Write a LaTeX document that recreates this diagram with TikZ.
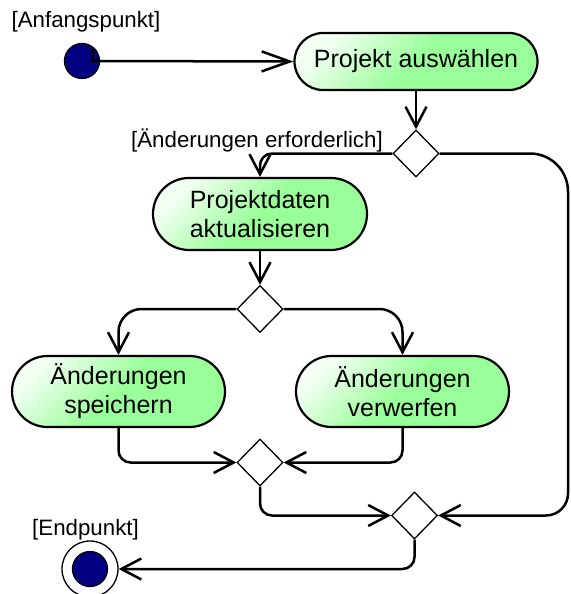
\documentclass[tikz,border=0pt]{standalone}
\usepackage{fontspec}
\setmainfont{Liberation Sans}
\usetikzlibrary{arrows.meta,shapes.geometric,shapes.misc}
\definecolor{actgreen}{RGB}{153,255,153}
\definecolor{actlight}{RGB}{242,255,242}
\definecolor{dotblue}{RGB}{0,0,128}
\begin{document}
\begin{tikzpicture}[x=1pt,y=-1pt,
  act/.style={rounded rectangle, draw, line width=2.2pt, inner sep=0pt,
    top color=actlight, bottom color=actgreen, middle color=actgreen,
    shading angle=45, align=center,
    font=\fontsize{25}{28.75}\selectfont},
  dec/.style={diamond, draw, line width=1.3pt, fill=white, inner sep=0pt,
    aspect=1, minimum width=46pt, minimum height=47pt},
  lbl/.style={inner sep=0pt, font=\fontsize{22.3}{26}\selectfont},
  dot/.style={circle, draw, line width=1.3pt, fill=dotblue, inner sep=0pt,
    minimum size=35pt},
  ring/.style={circle, draw, line width=1.3pt, fill=white, inner sep=0pt,
    minimum size=56pt},
  flow/.style={line width=2.5pt, rounded corners=12pt,
    -{Straight Barb[length=20pt,width=21pt]}},
]
\useasboundingbox (0,0) rectangle (570,594);

% initial and final states
\node[lbl] (lstart) at (86,22) {[Anfangspunkt]};
\node[dot] (start) at (82,61) {};
\node[lbl] (lend) at (85.5,530) {[Endpunkt]};
\node[ring] (end) at (90,569) {};
\node[dot] (endin) at (90,569) {};

% actions
\node[act, minimum width=243pt, minimum height=57pt] (a1) at (416,61.5) {Projekt auswählen};
\node[act, minimum width=214pt, minimum height=72pt] (a2) at (260,214) {Projektdaten\\aktualisieren};
\node[act, minimum width=213pt, minimum height=71pt] (a3) at (118.5,391.5) {Änderungen\\speichern};
\node[act, minimum width=213pt, minimum height=71pt] (a4) at (402.5,391.5) {Änderungen\\verwerfen};

% decisions and merges
\node[dec] (d1) at (416,153.5) {};
\node[dec] (d2) at (260,309) {};
\node[dec] (d3) at (260,462.5) {};
\node[dec] (d4) at (414.5,515.5) {};
\node[lbl, anchor=east] (lchg) at (383,140) {[Änderungen erforderlich]};

% connectors
\coordinate (notch) at (92.5,49);
\draw[flow, sharp corners, -{Straight Barb[length=28pt,width=20pt]}]
  (notch) -- (notch |- start) -- (a1.west);
\draw[flow] (a1.south) -- (d1.north);
\draw[flow] (d1.west) -| (a2.north);
\draw[flow] (a2.south) -- (d2.north);
\draw[flow, rounded corners=23pt] (d2.west) -| (a3.north);
\draw[flow, rounded corners=23pt] (d2.east) -| (a4.north);
\draw[flow] (a3.south) |- (d3.west);
\draw[flow] (a4.south) |- (d3.east);
\draw[flow] (d3.south) |- (d4.west);
\draw[flow] (d4.south) |- (end.east);
\coordinate (loop) at (568,0);
\draw[flow, rounded corners=38pt] (d1.east) -- (d1.east -| loop)
  [rounded corners=22pt] -- (d4.east -| loop) -- (d4.east);
\end{tikzpicture}
\end{document}
